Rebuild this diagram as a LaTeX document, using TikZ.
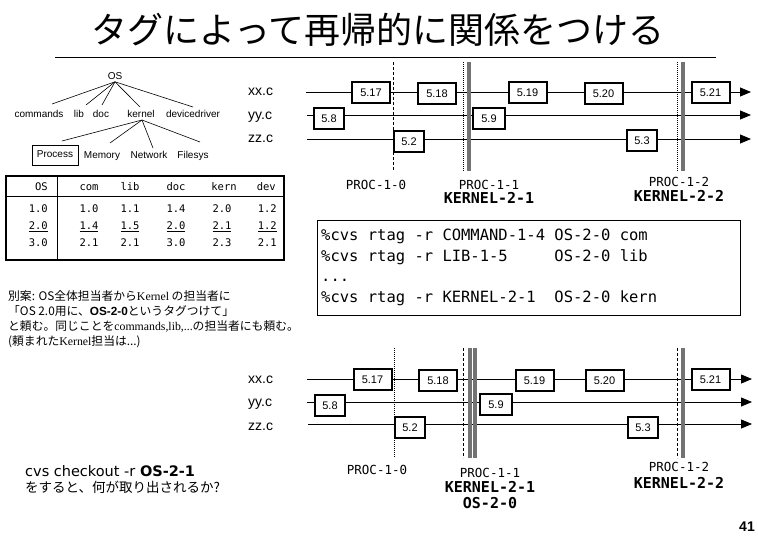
\documentclass[tikz,border=0pt]{standalone}
\usepackage{fontspec}
\setmainfont{Liberation Sans}
\newfontfamily\jp{Noto Sans CJK JP}
\newfontfamily\mono{DejaVu Sans Mono}
\newfontfamily\dvs{DejaVu Sans}
\newfontfamily\seriff{Liberation Serif}
\usetikzlibrary{arrows.meta,calc}
\begin{document}
\begin{tikzpicture}[x=1pt,y=-1pt,
  every node/.style={inner sep=0pt},
  ver/.style={draw,fill=white,line width=2pt,minimum width=38pt,minimum height=21pt,text height=8pt,text depth=0pt,font=\fontsize{11}{11}\selectfont},
  vers/.style={ver,minimum width=30pt},
  tl/.style={line width=0.8pt,-{Triangle[length=11pt,width=9pt]}},
  fname/.style={anchor=west,text height=10pt,text depth=3pt,font=\fontsize{14}{14}\selectfont},
  proc/.style={text height=9pt,text depth=2pt,font=\mono\fontsize{12.5}{12.5}\selectfont},
  kern/.style={text height=11pt,text depth=2pt,font=\mono\bfseries\fontsize{15}{15}\selectfont},
  hatch/.style={fill=black!55},
  dsh/.style={line width=0.6pt,dash pattern=on 3pt off 2pt},
  dtt/.style={line width=0.6pt,dash pattern=on 1pt off 1pt},
  tree/.style={text height=7.2pt,text depth=2pt,font=\fontsize{10}{10}\selectfont},
  tline/.style={line width=0.6pt},
  tcell/.style={text height=7.6pt,text depth=2pt,font=\mono\fontsize{10.5}{10.5}\selectfont},
  jpl/.style={anchor=west,text height=9pt,text depth=2.5pt,font=\jp\fontsize{11.8}{11.8}\selectfont},
  code/.style={anchor=west,text height=11pt,text depth=3pt,font=\mono\fontsize{15.5}{15.5}\selectfont},
]
\useasboundingbox (0,0) rectangle (758,536);

% ---------- title ----------
\node[font=\jp\fontsize{36}{36}\selectfont] (title) at (378,30) {タグによって再帰的に関係をつける};
\coordinate (ul1) at (55,57); \coordinate (ul2) at (716,57);
\draw[line width=0.8pt] (ul1) -- (ul2);

% ---------- tree ----------
\node[tree] (os) at (115,77) {OS};
\node[tree] (cmd) at (39,115) {commands};
\node[tree] (lib) at (79,115) {lib};
\node[tree] (doc) at (101,115) {doc};
\node[tree] (krn) at (141,115) {kernel};
\node[tree] (dev) at (193,115) {devicedriver};
\node[tree,draw,line width=0.8pt,minimum width=46pt,minimum height=20pt] (prc) at (55,155) {Process};
\node[tree] (mem) at (102,156) {Memory};
\node[tree] (net) at (149,156) {Network};
\node[tree] (fs) at (193,156) {Filesys};
\draw[tline] (os.south) -- ($(cmd.center)+(13,-11)$);
\draw[tline] (os.south) -- ($(lib.center)+(7,-10)$);
\draw[tline] (os.south) -- ($(doc.center)+(1,-10)$);
\draw[tline] (os.south) -- ($(krn.center)+(-1,-8)$);
\draw[tline] (os.south) -- ($(dev.center)+(0,-8)$);
\draw[tline] ($(krn.center)+(1,5)$) -- ($(prc.center)+(7,-14)$);
\draw[tline] ($(krn.center)+(1,5)$) -- ($(mem.center)+(8,-13)$);
\draw[tline] ($(krn.center)+(1,5)$) -- ($(net.center)+(4,-8)$);
\draw[tline] ($(krn.center)+(1,5)$) -- ($(fs.center)+(7,-14)$);

% ---------- table ----------
\node[draw,line width=2pt,anchor=north west,minimum width=278pt,minimum height=84pt] (tbl) at (5,175) {};
\coordinate (hl1) at (5,196); \coordinate (hl2) at (283,196);
\draw[line width=0.8pt] (hl1) -- (hl2);
\coordinate (vd1) at (57,175); \coordinate (vd2) at (57,259);
\draw[line width=0.8pt] (vd1) -- (vd2);
\node[tcell,anchor=east] (h0) at (48,188) {OS};
\node[tcell] (h1) at (89,188) {com};
\node[tcell] (h2) at (130,188) {lib};
\node[tcell] (h3) at (176,188) {doc};
\node[tcell] (h4) at (224,188) {kern};
\node[tcell,anchor=east] (h5) at (276,188) {dev};
\node[tcell,anchor=east] (a0) at (48,210) {1.0};
\node[tcell] (a1) at (89,210) {1.0};
\node[tcell] (a2) at (130,210) {1.1};
\node[tcell] (a3) at (176,210) {1.4};
\node[tcell] (a4) at (222,210) {2.0};
\node[tcell,anchor=east] (a5) at (277,210) {1.2};
\node[tcell,anchor=east] (b0) at (48,227) {\underline{2.0}};
\node[tcell] (b1) at (89,227) {\underline{1.4}};
\node[tcell] (b2) at (130,227) {\underline{1.5}};
\node[tcell] (b3) at (176,227) {\underline{2.0}};
\node[tcell] (b4) at (222,227) {\underline{2.1}};
\node[tcell,anchor=east] (b5) at (277,227) {\underline{1.2}};
\node[tcell,anchor=east] (c0) at (48,244) {3.0};
\node[tcell] (c1) at (89,244) {2.1};
\node[tcell] (c2) at (130,244) {2.1};
\node[tcell] (c3) at (176,244) {3.0};
\node[tcell] (c4) at (222,244) {2.3};
\node[tcell,anchor=east] (c5) at (277,244) {2.1};

% ---------- Japanese note ----------
\node[jpl] (n1) at (8,297) {別案: OS全体担当者から{\seriff Kernel} の担当者に};
\node[jpl] (n2) at (8,312) {「OS 2.0用に、{\fontspec{Liberation Sans}\bfseries OS-2-0}というタグつけて」};
\node[jpl] (n3) at (8,327) {と頼む。同じことを{\seriff commands,lib,...}の担当者にも頼む。};
\node[jpl] (n4) at (8,342) {(頼まれた{\seriff Kernel}担当は...)};

% ---------- code box ----------
\node[draw,line width=1pt,anchor=north west,minimum width=423pt,minimum height=95pt] (codebox) at (317,220) {};
\node[code] (l1) at (321,236) {\%cvs rtag -r COMMAND-1-4 OS-2-0 com};
\node[code] (l2) at (321,257) {\%cvs rtag -r LIB-1-5\ \ \ \ \ OS-2-0 lib};
\node[code] (l3) at (321,277) {...};
\node[code] (l4) at (321,298) {\%cvs rtag -r KERNEL-2-1\ \ OS-2-0 kern};

% ---------- top timeline ----------
\node[fname] (fx1) at (248,92) {xx.c};
\node[fname] (fy1) at (248,116) {yy.c};
\node[fname] (fz1) at (248,139) {zz.c};
\coordinate (xa1) at (306,92);  \coordinate (xb1) at (751,92);
\coordinate (ya1) at (307,115); \coordinate (yb1) at (751,115);
\coordinate (za1) at (307,139); \coordinate (zb1) at (751,139);
\draw[tl] (xa1) -- (xb1);
\draw[tl] (ya1) -- (yb1);
\draw[tl] (za1) -- (zb1);
\coordinate (v1a) at (393,62); \coordinate (v1b) at (393,171);
\draw[dsh] (v1a) -- (v1b);
\coordinate (v2a) at (463,62); \coordinate (v2b) at (463,171);
\draw[dtt] (v2a) -- (v2b);
\fill[hatch] (467,62) rectangle (471,171);
\coordinate (v3a) at (677,62); \coordinate (v3b) at (677,171);
\draw[dtt] (v3a) -- (v3b);
\fill[hatch] (681,62) rectangle (685,171);
\node[ver] (t517) at (371,92) {5.17};
\node[ver] (t518) at (437,93) {5.18};
\node[ver] (t519) at (527.5,92.5) {5.19};
\node[ver] (t520) at (603.5,93.5) {5.20};
\node[ver] (t521) at (710.5,92.5) {5.21};
\node[vers] (t58) at (329,118.5) {5.8};
\node[vers,minimum width=32pt] (t59) at (489,118) {5.9};
\node[vers] (t52) at (409,141) {5.2};
\node[vers] (t53) at (642,140) {5.3};
\node[proc] (p10a) at (376,186) {PROC-1-0};
\node[proc] (p11a) at (489,186) {PROC-1-1};
\node[kern] (k21a) at (489,199) {KERNEL-2-1};
\node[proc] (p12a) at (679,183) {PROC-1-2};
\node[kern] (k22a) at (679,197) {KERNEL-2-2};

% ---------- bottom timeline ----------
\node[fname] (fx2) at (248,380) {xx.c};
\node[fname] (fy2) at (248,403) {yy.c};
\node[fname] (fz2) at (248,427) {zz.c};
\coordinate (xa2) at (307,379); \coordinate (xb2) at (752,379);
\coordinate (ya2) at (307,402); \coordinate (yb2) at (752,402);
\coordinate (za2) at (308,424); \coordinate (zb2) at (752,424);
\draw[tl] (xa2) -- (xb2);
\draw[tl] (ya2) -- (yb2);
\draw[tl] (za2) -- (zb2);
\coordinate (w1a) at (394,348); \coordinate (w1b) at (394,457);
\draw[dtt] (w1a) -- (w1b);
\coordinate (w2a) at (463,348); \coordinate (w2b) at (463,458);
\draw[dsh] (w2a) -- (w2b);
\fill[hatch] (468,348) rectangle (472,458);
\fill[hatch] (473,348) rectangle (477,458);
\coordinate (w3a) at (677,348); \coordinate (w3b) at (677,458);
\draw[dsh] (w3a) -- (w3b);
\fill[hatch] (681,348) rectangle (685,458);
\node[ver] (s517) at (372.5,379) {5.17};
\node[ver] (s518) at (438,380) {5.18};
\node[ver] (s519) at (534.5,380) {5.19};
\node[ver] (s520) at (604.5,380) {5.20};
\node[ver] (s521) at (710.5,379) {5.21};
\node[vers] (s58) at (330,405.5) {5.8};
\node[vers,minimum width=32pt] (s59) at (496,404) {5.9};
\node[vers] (s52) at (410,427.5) {5.2};
\node[vers] (s53) at (643,427.5) {5.3};
\node[proc] (p10b) at (377,471) {PROC-1-0};
\node[proc] (p11b) at (490,474) {PROC-1-1};
\node[kern] (k21b) at (490,488) {KERNEL-2-1};
\node[kern] (os20) at (490,504) {OS-2-0};
\node[proc] (p12b) at (679,468) {PROC-1-2};
\node[kern] (k22b) at (679,484) {KERNEL-2-2};

% ---------- question ----------
\node[anchor=west,font=\dvs\fontsize{14.5}{14.5}\selectfont] (q1) at (25,471) {cvs checkout -r {\bfseries OS-2-1}};
\node[anchor=west,font=\jp\fontsize{13.5}{13.5}\selectfont] (q2) at (25,487) {をすると、何が取り出されるか?};

% ---------- page number ----------
\node[font=\bfseries\fontsize{14}{14}\selectfont] (pg) at (747,527) {41};
\end{tikzpicture}
\end{document}
